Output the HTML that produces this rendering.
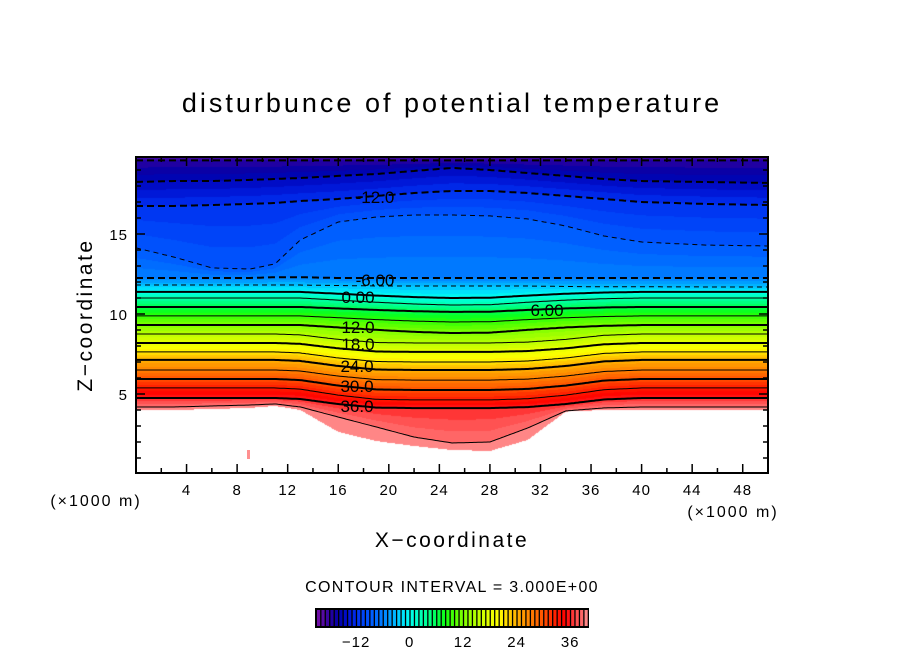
<!DOCTYPE html>
<html><head><meta charset="utf-8">
<style>
html,body{margin:0;padding:0;background:#fff;}
#wrap{position:relative;width:904px;height:654px;overflow:hidden;font-family:"Liberation Sans",sans-serif;}
#field{position:absolute;left:136px;top:157px;}
#ov{position:absolute;left:0;top:0;}
</style></head>
<body>
<div id="wrap">
<canvas id="field" width="632" height="316"></canvas>
<svg id="ov" width="904" height="654"></svg>
</div>
<script>
// ---- data ----
const xsKm = [0,3,6,9,11,13,16,19,22,25,28,31,34,37,40,45,50];
const zMinus18 = [19.6,19.6,19.6,19.6,19.6,19.6,19.6,19.6,19.6,19.6,19.6,19.6,19.6,19.6,19.6,19.6,19.6];
const zMinus15 = [18.25,18.31,18.31,18.38,18.44,18.5,18.63,18.75,18.94,19.13,19.0,18.81,18.63,18.44,18.31,18.25,18.19];
const zMinus12 = [16.75,16.75,16.81,16.88,16.94,17.06,17.19,17.38,17.56,17.69,17.69,17.56,17.38,17.19,17.0,16.88,16.81];
const zMinus9 = [14.13,13.56,12.88,12.81,13.13,14.63,15.75,16.06,16.19,16.19,16.13,15.94,15.5,14.88,14.5,14.31,14.25];
const zMinus6 = [12.25,12.25,12.25,12.25,12.3,12.3,12.25,12.25,12.25,12.25,12.25,12.25,12.25,12.25,12.25,12.25,12.25];
const zMinus3 = [11.81,11.81,11.81,11.81,11.81,11.81,11.78,11.75,11.75,11.75,11.75,11.75,11.72,11.7,11.7,11.69,11.69];
const lowLevels = [0,3,6,9,12,15,18,21,24,27,30,33,36];
const lowBaseZ = [11.38,11.0,10.44,9.88,9.31,8.75,8.19,7.63,7.13,6.5,5.94,5.38,4.75];
const lowDipKm = [0.38,0.44,0.31,0.38,0.5,0.56,0.56,0.63,0.63,0.63,0.69,0.75,0.63];
const shapeHigh = [0,0,0,0,0,0,0.3,0.6,0.85,1,0.95,0.6,0.3,0.1,0,0,0];
const shapeLow = [0,0,0,0,0,0.1,0.6,0.95,1,1,1,0.9,0.6,0.15,0,0,0];
const z39 = [4.19,4.19,4.25,4.31,4.38,4.19,3.56,2.94,2.31,1.94,2.0,2.88,3.94,4.13,4.19,4.19,4.19];
const groundZ = [4.0,4.0,4.06,4.13,4.25,4.0,2.63,2.06,1.75,1.5,1.44,2.13,3.9,4.0,4.0,4.0,4.0];
const cmapVals = [-21,-19,-18,-16,-14,-12,-9,-6,-4,-2,0,2,4,6,8,10,12,15,18,20,22,24,27,30,33,35,37,39,40];
const cmapCols = ['#7a10a8','#4a08a0','#2a00a0','#0000a8','#0010d0','#0030f0','#0058ff','#0080ff','#00a8ff','#00d8ff','#00fff0','#00ffc0','#00ff90','#00ff50','#10ff10','#50ff00','#80ff00','#b8ff00','#e8ff00','#ffff00','#ffd000','#ffb000','#ff8000','#ff5000','#ff1800','#ff0000','#ff4848','#ff7070','#ff9c9c'];
const xTicks = [4,8,12,16,20,24,28,32,36,40,44,48];
const yTicks = [5,10,15];
const cbTicks = [-12,0,12,24,36];
const vMin = -21, vMax = 40;

// ---- scales ----
const PL=136, PR=768, PT=157, PB=473;
function xPx(x){return PL + x/50*(PR-PL);}
function yPx(z){return 474 - 16*z;}
function interp(arr,x){
  if(x<=xsKm[0])return arr[0];
  for(let i=1;i<xsKm.length;i++){ if(x<=xsKm[i]){const t=(x-xsKm[i-1])/(xsKm[i]-xsKm[i-1]);return arr[i-1]+t*(arr[i]-arr[i-1]);} }
  return arr[arr.length-1];
}
const levelValues=[-18,-15,-12,-9,-6,-3].concat(lowLevels).concat([39]);
function levelZs(x){
  const out=[interp(zMinus18,x),interp(zMinus15,x),interp(zMinus12,x),interp(zMinus9,x),interp(zMinus6,x),interp(zMinus3,x)];
  for(let k=0;k<lowLevels.length;k++){
    const sh = lowLevels[k]<=12 ? shapeHigh : shapeLow;
    out.push(lowBaseZ[k]-lowDipKm[k]*interp(sh,x));
  }
  out.push(interp(z39,x));
  return out;
}
function hex(c){return [parseInt(c.substr(1,2),16),parseInt(c.substr(3,2),16),parseInt(c.substr(5,2),16)];}
const cmapRGB=cmapCols.map(hex);
function cmap(v){
  if(v<=cmapVals[0])return cmapRGB[0];
  for(let i=1;i<cmapVals.length;i++){ if(v<=cmapVals[i]){const t=(v-cmapVals[i-1])/(cmapVals[i]-cmapVals[i-1]);const a=cmapRGB[i-1],b=cmapRGB[i];return [a[0]+t*(b[0]-a[0]),a[1]+t*(b[1]-a[1]),a[2]+t*(b[2]-a[2])];} }
  return cmapRGB[cmapRGB.length-1];
}
function valueAt(x,z,zs,g){
  if(z<g)return null;
  if(z>=zs[0])return -18-(z-zs[0])*5;
  const last=zs.length-1;
  if(z<zs[last]){return Math.min(39.99,39+(zs[last]-z)/Math.max(0.05,zs[last]-g));}
  for(let k=1;k<=last;k++){
    if(z>=zs[k]){const t=(zs[k-1]-z)/Math.max(1e-6,zs[k-1]-zs[k]);return levelValues[k-1]+t*(levelValues[k]-levelValues[k-1]);}
  }
  return 39;
}
// ---- field ----
const cv=document.getElementById('field');const ctx=cv.getContext('2d');
const W=cv.width,H=cv.height;const img=ctx.createImageData(W,H);
for(let i=0;i<W;i++){
  const x=(i+0.5)/W*50;const zs=levelZs(x);const g=interp(groundZ,x);
  for(let j=0;j<H;j++){
    const z=(474-(PT+j+0.5))/16;const v=valueAt(x,z,zs,g);const p=(j*W+i)*4;
    if(v===null){img.data[p]=255;img.data[p+1]=255;img.data[p+2]=255;}
    else{const c=cmap(Math.floor(v)+0.5);img.data[p]=c[0];img.data[p+1]=c[1];img.data[p+2]=c[2];}
    img.data[p+3]=255;
  }
}
ctx.putImageData(img,0,0);

// ---- overlay ----
const NS='http://www.w3.org/2000/svg';const svg=document.getElementById('ov');
function mk(tag,attrs,parent){const e=document.createElementNS(NS,tag);for(const k in attrs)e.setAttribute(k,attrs[k]);(parent||svg).appendChild(e);return e;}
const speck=mk('rect',{x:247,y:450,width:3,height:9,fill:'#ff9090'});


const cg=mk('g',{});


for(let k=0;k<levelValues.length;k++){
  const v=levelValues[k];let pts=[];
  for(let px=PL;px<=PR;px+=2){const x=(px-PL)/(PR-PL)*50;const zs=levelZs(x);pts.push(px+','+Math.max(PT,yPx(zs[k])).toFixed(1));}
  const thick=(v%6===0)||v===-15;
  const attrs={points:pts.join(' '),fill:'none',stroke:'#000','stroke-width':thick?2:1};
  if(v<0)attrs['stroke-dasharray']=thick?'7 4':'5 4';
  const pl=mk('polyline',attrs,cg);
  
  
}
const labs=[['-12.0',375,203],['-6.00',375,286],['0.00',358,303],['6.00',547,316],['12.0',358,333],['18.0',358,350],['24.0',357,372],['30.0',357,392],['36.0',357,412]];
for(const l of labs){const t=mk('text',{x:l[1],y:l[2],'text-anchor':'middle','font-size':17,fill:'#000'});t.textContent=l[0];

}
const fr=mk('rect',{x:PL,y:PT,width:PR-PL,height:PB-PT,fill:'none',stroke:'#000','stroke-width':2});


for(let xv=2;xv<50;xv+=2){const px=xPx(xv);const L=(xv%4===0)?9:5;
  mk('line',{x1:px,y1:PB,x2:px,y2:PB-L,stroke:'#000','stroke-width':1.5});
  mk('line',{x1:px,y1:PT,x2:px,y2:PT+L,stroke:'#000','stroke-width':1.5});}
for(let zv=1;zv<20;zv++){const py=yPx(zv);if(py<PT)continue;const L=(zv%5===0)?9:5;
  mk('line',{x1:PL,y1:py,x2:PL+L,y2:py,stroke:'#000','stroke-width':1.5});
  mk('line',{x1:PR,y1:py,x2:PR-L,y2:py,stroke:'#000','stroke-width':1.5});}
for(const xv of xTicks){const t=mk('text',{x:xPx(xv),y:495,'text-anchor':'middle','font-size':15,'letter-spacing':1});t.textContent=String(xv);

}
for(const zv of yTicks){const t=mk('text',{x:128,y:yPx(zv)+6,'text-anchor':'end','font-size':15,'letter-spacing':1});t.textContent=String(zv);

}
const cbL=316,cbR=588,cbT=609,cbB=627;const n=vMax-vMin;const sw=(cbR-cbL)/n;
mk('rect',{x:cbL-1,y:cbT-1,width:cbR-cbL+2,height:cbB-cbT+2,fill:'#000'});
for(let b=0;b<n;b++){const c=cmap(vMin+b+0.5);const r=mk('rect',{x:(cbL+b*sw+1).toFixed(2),y:cbT+1,width:(sw-1.3).toFixed(2),height:cbB-cbT-2,fill:'rgb('+c.map(Math.round).join(',')+')'});

}
for(const v of cbTicks){const t=mk('text',{x:cbL+(v-vMin)*sw,y:647,'text-anchor':'middle','font-size':15,'letter-spacing':1});t.textContent=(v<0?'\u2212':'')+Math.abs(v);

}
</script>
<svg width="904" height="654" style="position:absolute;left:0;top:0;pointer-events:none">
<text x="452" y="112" text-anchor="middle" font-size="27" font-family="Liberation Sans, sans-serif" letter-spacing="3">disturbunce of potential temperature</text>
<text x="452" y="547" text-anchor="middle" font-size="21" font-family="Liberation Sans, sans-serif" letter-spacing="2.5">X−coordinate</text>
<text x="0" y="0" text-anchor="middle" font-size="21" font-family="Liberation Sans, sans-serif" letter-spacing="2.5" transform="translate(92,315) rotate(-90)">Z−coordinate</text>
<text x="96" y="506" text-anchor="middle" font-size="16" font-family="Liberation Sans, sans-serif" letter-spacing="2">(×1000 m)</text>
<text x="733" y="517" text-anchor="middle" font-size="16" font-family="Liberation Sans, sans-serif" letter-spacing="2">(×1000 m)</text>
<text x="452" y="592" text-anchor="middle" font-size="16" font-family="Liberation Sans, sans-serif" letter-spacing="1.3">CONTOUR INTERVAL = 3.000E+00</text>
</svg>
</body></html>
